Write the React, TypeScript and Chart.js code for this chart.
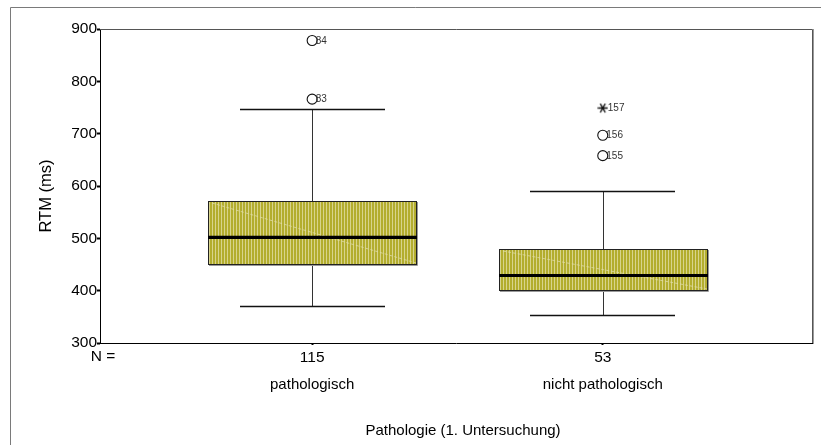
import React, { useEffect, useRef } from "react";
import { Chart, registerables } from "chart.js";

Chart.register(...registerables);

// Groups, case counts and the five-number summaries of RTM (ms)
const categories = ["pathologisch", "nicht pathologisch"];
const counts = [115, 53];
const lowerWhisker = [371, 353];
const q1 = [451, 401];
const median = [502, 429];
const q3 = [572, 479];
const upperWhisker = [747, 590];

// Outliers (circles) and extreme values (stars) with their case numbers
const outlierGroup = [1, 1, 2, 2, 2];
const outlierValue = [878, 766, 749, 697, 658];
const outlierCase = ["84", "83", "157", "156", "155"];
const outlierExtreme = [false, false, true, false, false];

const yTicks = [300, 400, 500, 600, 700, 800, 900];

const FONT = "'Liberation Sans', Arial, sans-serif";
const BOX_HALF = 0.357;
const CAP_HALF = 0.249;

function makeStripePattern(ctx: CanvasRenderingContext2D) {
  const c = document.createElement("canvas");
  c.width = 3;
  c.height = 1;
  const g = c.getContext("2d")!;
  g.fillStyle = "#b3ad2e";
  g.fillRect(0, 0, 3, 1);
  g.fillStyle = "#d8d48c";
  g.fillRect(2, 0, 1, 1);
  return ctx.createPattern(c, "repeat")!;
}

// six-armed asterisk used for extreme values
function makeAsterisk() {
  const c = document.createElement("canvas");
  c.width = 11;
  c.height = 11;
  const g = c.getContext("2d")!;
  g.strokeStyle = "#111111";
  g.lineWidth = 1.3;
  g.beginPath();
  for (const a of [0, Math.PI / 3, (2 * Math.PI) / 3]) {
    g.moveTo(5.5 - 5 * Math.cos(a), 5.5 - 5 * Math.sin(a));
    g.lineTo(5.5 + 5 * Math.cos(a), 5.5 + 5 * Math.sin(a));
  }
  g.stroke();
  return c;
}

const boxPlotPlugin = {
  id: "boxPlot",
  beforeDraw(chart: any) {
    const { ctx, width, height } = chart;
    ctx.save();
    ctx.fillStyle = "#ffffff";
    ctx.fillRect(0, 0, width, height);
    // outer frame
    ctx.strokeStyle = "#7a7a7a";
    ctx.lineWidth = 1;
    ctx.beginPath();
    ctx.moveTo(10.5, height);
    ctx.lineTo(10.5, 7.5);
    ctx.lineTo(width, 7.5);
    ctx.stroke();
    ctx.restore();
  },
  beforeDatasetsDraw(chart: any) {
    const { ctx, chartArea } = chart;
    const xs = chart.scales.x;
    const ys = chart.scales.y;
    ctx.save();
    // plot frame: top and right edges
    ctx.strokeStyle = "#555555";
    ctx.lineWidth = 1;
    ctx.beginPath();
    ctx.moveTo(chartArea.left, Math.round(chartArea.top) + 0.5);
    ctx.lineTo(Math.round(chartArea.right) + 0.5, Math.round(chartArea.top) + 0.5);
    ctx.lineTo(Math.round(chartArea.right) + 0.5, chartArea.bottom);
    ctx.stroke();
    ctx.strokeStyle = "#9a9a9a";
    ctx.beginPath();
    ctx.moveTo(Math.round(chartArea.right) + 1.5, chartArea.top);
    ctx.lineTo(Math.round(chartArea.right) + 1.5, chartArea.bottom + 1);
    ctx.stroke();

    const pattern = makeStripePattern(ctx);
    categories.forEach((_, i) => {
      const pos = i + 1;
      const cx = Math.round(xs.getPixelForValue(pos)) + 0.5;
      const bl = Math.round(xs.getPixelForValue(pos - BOX_HALF));
      const br = Math.round(xs.getPixelForValue(pos + BOX_HALF));
      const cl = Math.round(xs.getPixelForValue(pos - CAP_HALF));
      const cr = Math.round(xs.getPixelForValue(pos + CAP_HALF));
      const yLo = Math.round(ys.getPixelForValue(lowerWhisker[i])) + 0.5;
      const yHi = Math.round(ys.getPixelForValue(upperWhisker[i])) + 0.5;
      const yQ1 = Math.round(ys.getPixelForValue(q1[i]));
      const yQ3 = Math.round(ys.getPixelForValue(q3[i]));
      const yMed = ys.getPixelForValue(median[i]);

      // whiskers
      ctx.strokeStyle = "#333333";
      ctx.lineWidth = 1;
      ctx.beginPath();
      ctx.moveTo(cx, yHi);
      ctx.lineTo(cx, yQ3);
      ctx.moveTo(cx, yQ1);
      ctx.lineTo(cx, yLo);
      ctx.stroke();
      ctx.strokeStyle = "#111111";
      ctx.lineWidth = 1.3;
      ctx.beginPath();
      ctx.moveTo(cl, yHi);
      ctx.lineTo(cr, yHi);
      ctx.moveTo(cl, yLo);
      ctx.lineTo(cr, yLo);
      ctx.stroke();

      // box
      ctx.fillStyle = pattern;
      ctx.fillRect(bl, yQ3, br - bl, yQ1 - yQ3);
      // faint diagonal streak across the fill
      ctx.save();
      ctx.beginPath();
      ctx.rect(bl, yQ3, br - bl, yQ1 - yQ3);
      ctx.clip();
      ctx.strokeStyle = "rgba(225,222,170,0.75)";
      ctx.setLineDash([3, 2]);
      ctx.lineWidth = 1;
      ctx.beginPath();
      ctx.moveTo(bl + 4, yQ3 + 2);
      ctx.lineTo(br, yQ1 - 1);
      ctx.stroke();
      ctx.restore();

      // box shadow and outline
      ctx.strokeStyle = "#9a9a9a";
      ctx.lineWidth = 1;
      ctx.beginPath();
      ctx.moveTo(br + 1.5, yQ3 + 1);
      ctx.lineTo(br + 1.5, yQ1 + 1.5);
      ctx.lineTo(bl + 1, yQ1 + 1.5);
      ctx.stroke();
      ctx.strokeStyle = "#222222";
      ctx.strokeRect(bl + 0.5, yQ3 + 0.5, br - bl, yQ1 - yQ3);

      // median
      ctx.strokeStyle = "#000000";
      ctx.lineWidth = 3.2;
      ctx.beginPath();
      ctx.moveTo(bl, yMed);
      ctx.lineTo(br + 1, yMed);
      ctx.stroke();
    });
    ctx.restore();
  },
  afterDraw(chart: any) {
    const { ctx, chartArea } = chart;
    const xs = chart.scales.x;
    const ys = chart.scales.y;
    ctx.save();

    // case numbers beside outliers
    ctx.fillStyle = "#333333";
    ctx.font = `10px ${FONT}`;
    ctx.textAlign = "left";
    ctx.textBaseline = "middle";
    outlierValue.forEach((v, k) => {
      const px = xs.getPixelForValue(outlierGroup[k]);
      const py = ys.getPixelForValue(v);
      ctx.fillText(outlierCase[k], px + (outlierExtreme[k] ? 5 : 3.5), py + 0.5);
    });

    ctx.fillStyle = "#000000";
    ctx.font = `15.5px ${FONT}`;
    ctx.textAlign = "center";
    ctx.textBaseline = "top";
    ctx.fillText("N =", chartArea.left + 3, chartArea.bottom + 6);

    // group names under the counts
    ctx.font = `15px ${FONT}`;
    ctx.textBaseline = "alphabetic";
    categories.forEach((name, i) => {
      ctx.fillText(name, xs.getPixelForValue(i + 1), chartArea.bottom + 46);
    });

    // axis titles
    ctx.fillText(
      "Pathologie (1. Untersuchung)",
      (chartArea.left + chartArea.right) / 2 + 7,
      435
    );
    ctx.save();
    ctx.translate(46, (chartArea.top + chartArea.bottom) / 2 + 10);
    ctx.rotate(-Math.PI / 2);
    ctx.font = `16.5px ${FONT}`;
    ctx.textBaseline = "middle";
    ctx.fillText("RTM (ms)", 0, 0);
    ctx.restore();

    ctx.restore();
  },
};

export default function App() {
  const canvasRef = useRef<HTMLCanvasElement>(null);

  useEffect(() => {
    document.body.style.margin = "0";
    const canvas = canvasRef.current!;
    const circles = outlierValue
      .map((v, k) => ({ x: outlierGroup[k], y: v, extreme: outlierExtreme[k] }))
      .filter((p) => !p.extreme);
    const stars = outlierValue
      .map((v, k) => ({ x: outlierGroup[k], y: v, extreme: outlierExtreme[k] }))
      .filter((p) => p.extreme);

    const chart = new Chart(canvas, {
      type: "scatter",
      data: {
        datasets: [
          {
            data: circles,
            pointStyle: "circle",
            pointRadius: 5,
            borderWidth: 1.1,
            borderColor: "#111111",
            backgroundColor: "#ffffff",
          },
          {
            data: stars,
            pointStyle: makeAsterisk() as any,
            pointRadius: 5,
            borderColor: "#111111",
          },
        ],
      },
      options: {
        animation: false,
        responsive: false,
        events: [],
        layout: { padding: { left: 0, top: 29, right: 9, bottom: 0 } },
        plugins: {
          legend: { display: false },
          tooltip: { enabled: false },
        },
        scales: {
          x: {
            type: "linear",
            min: 0.27,
            max: 2.72,
            afterBuildTicks: (scale: any) => {
              scale.ticks = [{ value: 1 }, { value: 2 }];
            },
            afterFit: (scale: any) => {
              scale.height = 102;
            },
            ticks: {
              color: "#000000",
              font: { family: FONT, size: 15.5 },
              padding: 3,
              maxRotation: 0,
              callback: (v: any) => String(counts[Math.round(v) - 1]),
            },
            grid: {
              drawOnChartArea: false,
              drawTicks: true,
              tickLength: 2,
              tickWidth: 2,
              color: "#000000",
            },
            border: { display: true, color: "#000000", width: 1 },
          },
          y: {
            type: "linear",
            min: 300,
            max: 900,
            afterBuildTicks: (scale: any) => {
              scale.ticks = yTicks.map((value) => ({ value }));
            },
            afterFit: (scale: any) => {
              scale.width = 100;
            },
            ticks: {
              color: "#000000",
              font: { family: FONT, size: 15.5 },
              padding: 0,
            },
            grid: {
              drawOnChartArea: false,
              drawTicks: true,
              tickLength: 3,
              tickWidth: 2,
              color: "#000000",
            },
            border: { display: true, color: "#000000", width: 1 },
          },
        },
      },
      plugins: [boxPlotPlugin],
    });
    return () => chart.destroy();
  }, []);

  return (
    <div style={{ position: "absolute", left: 0, top: 0, width: 821, height: 445 }}>
      <canvas ref={canvasRef} width={821} height={445} style={{ width: 821, height: 445 }} />
    </div>
  );
}
